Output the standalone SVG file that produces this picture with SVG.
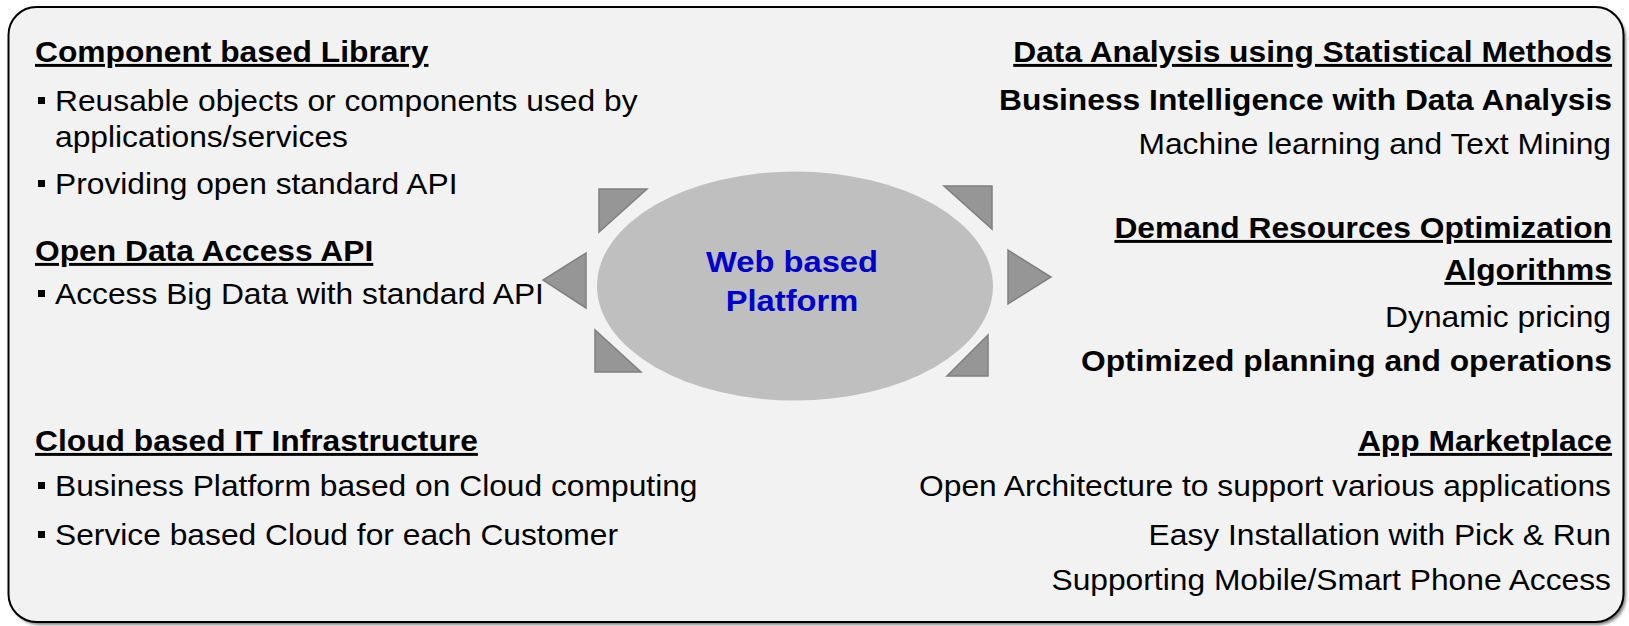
<svg xmlns="http://www.w3.org/2000/svg" width="1629" height="626" viewBox="0 0 1629 626">
<defs>
<filter id="sh" x="-2%" y="-2%" width="104%" height="104%"><feGaussianBlur stdDeviation="1.5"/></filter>
</defs>
<style>
text{font-family:"Liberation Sans",Arial,sans-serif;font-size:29.5px;fill:#000}
.h{font-weight:bold;text-decoration:underline}
.b{font-weight:bold}
.r{text-anchor:end}
.tri{fill:#969696;stroke:#808080;stroke-width:1.5;stroke-linejoin:miter}
.bul{fill:#000}
.c{font-weight:bold;fill:#0000cc;text-anchor:middle;font-size:30px}
</style>
<g id="frame">
<rect x="11" y="10" width="1615" height="615" rx="28" fill="#7f7f7f" filter="url(#sh)"/>
<rect x="8.5" y="7" width="1615" height="615" rx="28" fill="#f2f2f2" stroke="#000" stroke-width="2"/>
</g>
<g id="platform">
<ellipse cx="795" cy="286" rx="198" ry="114.5" fill="#bfbfbf"/>
<text class="c" transform="translate(792,272) scale(1.09,1)">Web based</text>
<text class="c" transform="translate(792,311) scale(1.09,1)">Platform</text>
</g>
<g id="connectors">
<polygon class="tri" points="599,189 647,189 599,232"/>
<polygon class="tri" points="586,253 586,308 543,280"/>
<polygon class="tri" points="595,330 595,372 641,372"/>
<polygon class="tri" points="944,186 992,186 992,229"/>
<polygon class="tri" points="1008,250 1008,304 1051,277"/>
<polygon class="tri" points="947,376 988,376 988,335"/>
</g>
<g id="component-library">
<text class="h" transform="translate(35,62) scale(1.077,1)">Component based Library</text>
<rect class="bul" x="38" y="97" width="7" height="7"/>
<text transform="translate(55,111) scale(1.077,1)">Reusable objects or components used by</text>
<text transform="translate(55,147) scale(1.077,1)">applications/services</text>
<rect class="bul" x="38" y="180" width="7" height="7"/>
<text transform="translate(55,194) scale(1.077,1)">Providing open standard API</text>
</g>
<g id="open-data-api">
<text class="h" transform="translate(35,261) scale(1.077,1)">Open Data Access API</text>
<rect class="bul" x="38" y="290" width="7" height="7"/>
<text transform="translate(55,304) scale(1.077,1)">Access Big Data with standard API</text>
</g>
<g id="cloud-infrastructure">
<text class="h" transform="translate(35,451) scale(1.077,1)">Cloud based IT Infrastructure</text>
<rect class="bul" x="38" y="482" width="7" height="7"/>
<text transform="translate(55,496) scale(1.077,1)">Business Platform based on Cloud computing</text>
<rect class="bul" x="38" y="531" width="7" height="7"/>
<text transform="translate(55,545) scale(1.077,1)">Service based Cloud for each Customer</text>
</g>
<g id="data-analysis">
<text class="h r" transform="translate(1612,62) scale(1.077,1)">Data Analysis using Statistical Methods</text>
<text class="b r" transform="translate(1612,110) scale(1.077,1)">Business Intelligence with Data Analysis</text>
<text class="r" transform="translate(1611,154) scale(1.077,1)">Machine learning and Text Mining</text>
</g>
<g id="demand-optimization">
<text class="h r" transform="translate(1612,238) scale(1.077,1)">Demand Resources Optimization</text>
<text class="h r" transform="translate(1612,280) scale(1.077,1)">Algorithms</text>
<text class="r" transform="translate(1611,327) scale(1.077,1)">Dynamic pricing</text>
<text class="b r" transform="translate(1612,371) scale(1.077,1)">Optimized planning and operations</text>
</g>
<g id="app-marketplace">
<text class="h r" transform="translate(1612,451) scale(1.077,1)">App Marketplace</text>
<text class="r" transform="translate(1611,496) scale(1.077,1)">Open Architecture to support various applications</text>
<text class="r" transform="translate(1611,545) scale(1.077,1)">Easy Installation with Pick &amp; Run</text>
<text class="r" transform="translate(1611,590) scale(1.077,1)">Supporting Mobile/Smart Phone Access</text>
</g>
</svg>
